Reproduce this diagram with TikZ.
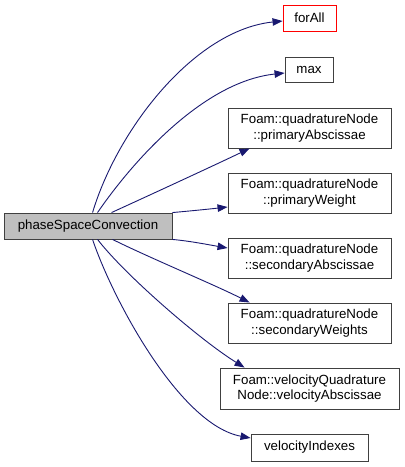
\documentclass[tikz,border=0pt]{standalone}
\usepackage{fontspec}
\setmainfont{Liberation Sans}
\usetikzlibrary{arrows.meta}
\definecolor{edgec}{HTML}{191970}
\definecolor{mainfill}{gray}{0.75}
\definecolor{boxborder}{gray}{0.25}
\begin{document}
\begin{tikzpicture}[x=1bp,y=-1bp,
  box/.style={draw=boxborder,line width=0.9bp,fill=white,inner sep=0pt,align=center,
    font=\fontsize{13.3bp}{15.8bp}\selectfont},
  edge/.style={draw=edgec,line width=0.9bp,-{Triangle[length=10bp,width=7.5bp]}}]
\useasboundingbox (0,0) rectangle (404,467);
\node[box,fill=mainfill,minimum width=168bp,minimum height=26bp] (main) at (88,226) {phaseSpaceConvection};
\node[box,draw=red,minimum width=53bp,minimum height=26bp] (forall) at (309.5,18) {forAll};
\node[box,minimum width=48bp,minimum height=25bp] (max) at (309,69.5) {max};
\node[box,minimum width=163bp,minimum height=40bp] (pa) at (309.5,128) {Foam::quadratureNode\\::primaryAbscissae};
\node[box,minimum width=163bp,minimum height=40bp] (pw) at (309.5,193) {Foam::quadratureNode\\::primaryWeight};
\node[box,minimum width=163bp,minimum height=40bp] (sa) at (309.5,258) {Foam::quadratureNode\\::secondaryAbscissae};
\node[box,minimum width=163bp,minimum height=40bp] (sw) at (309.5,323) {Foam::quadratureNode\\::secondaryWeights};
\node[box,minimum width=179bp,minimum height=41bp] (vq) at (309.5,388.5) {Foam::velocityQuadrature\\Node::velocityAbscissae};
\node[box,minimum width=117bp,minimum height=27bp] (vi) at (309.5,447.5) {velocityIndexes};
\draw[edge] ([xshift=89bp]main.north west) .. controls (118,128) and (195,30) .. ([yshift=-3bp]forall.west);
\draw[edge] ([xshift=94bp]main.north west) .. controls (128,168) and (200,82) .. ([yshift=-3.5bp]max.west);
\draw[edge] ([xshift=108bp]main.north west) .. controls (150,195) and (215,165) .. ([xshift=22bp]pa.south west);
\draw[edge] (main.north east) .. controls (190,211) and (210,209) .. ([yshift=-14bp]pw.west);
\draw[edge] (main.south east) .. controls (190,241) and (210,245) .. ([yshift=10bp]sa.west);
\draw[edge] ([xshift=109bp]main.south west) .. controls (150,258) and (215,285) .. ([xshift=22bp]sw.north west);
\draw[edge] ([xshift=94bp]main.south west) .. controls (125,275) and (200,340) .. ([xshift=25bp]vq.north west);
\draw[edge] ([xshift=89bp]main.south west) .. controls (113,300) and (180,425) .. ([yshift=9.5bp]vi.west);
\end{tikzpicture}
\end{document}
